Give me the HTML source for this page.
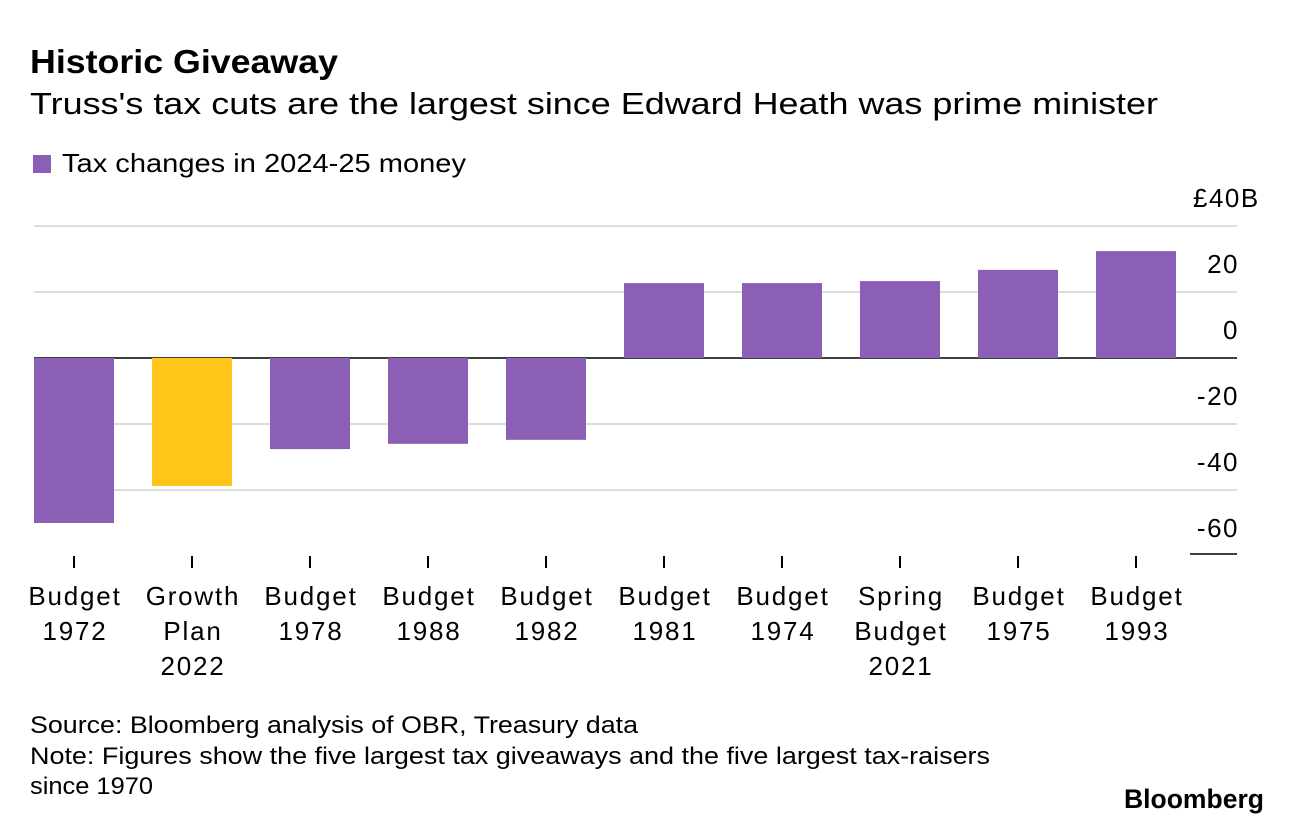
<!DOCTYPE html>
<html><head><meta charset="utf-8">
<style>
body{margin:0;background:#fff;width:1292px;height:824px;overflow:hidden;font-family:"Liberation Sans",sans-serif;color:#000}
</style></head>
<body>
<svg id="chart" width="1292" height="824" xmlns="http://www.w3.org/2000/svg" font-family="Liberation Sans, sans-serif">
<text x="30" y="73" font-size="33" font-weight="bold" textLength="308" lengthAdjust="spacingAndGlyphs">Historic Giveaway</text>
<text x="30" y="114" font-size="31" textLength="1128" lengthAdjust="spacingAndGlyphs">Truss's tax cuts are the largest since Edward Heath was prime minister</text>
<rect x="33" y="155" width="18" height="18" fill="#8a5fb5"/>
<text x="62" y="172" font-size="26" textLength="404" lengthAdjust="spacingAndGlyphs">Tax changes in 2024-25 money</text>
<g id="grid"></g>
<g id="bars"></g>
<g id="xlabels"></g>
<text x="30" y="733" font-size="24" textLength="608" lengthAdjust="spacingAndGlyphs">Source: Bloomberg analysis of OBR, Treasury data</text>
<text x="30" y="764" font-size="24" textLength="960" lengthAdjust="spacingAndGlyphs">Note: Figures show the five largest tax giveaways and the five largest tax-raisers</text>
<text x="30" y="794" font-size="24" textLength="123" lengthAdjust="spacingAndGlyphs">since 1970</text>
<text x="1124" y="808" font-size="27" font-weight="bold" textLength="140" lengthAdjust="spacingAndGlyphs">Bloomberg</text>
</svg>
<script>
const categories=[["Budget","1972"],["Growth","Plan","2022"],["Budget","1978"],["Budget","1988"],["Budget","1982"],["Budget","1981"],["Budget","1974"],["Spring","Budget","2021"],["Budget","1975"],["Budget","1993"]];
const values=[-50,-38.8,-27.6,-26,-24.8,22.7,22.7,23.3,26.7,32.4];
const highlight=[false,true,false,false,false,false,false,false,false,false];
const ticks=[40,20,0,-20,-40,-60];
const tickLabels=["£40B","20","0","-20","-40","-60"];
const NS="http://www.w3.org/2000/svg";
const y=v=>358-v*3.3;
const xc=i=>74+i*118;
function mk(tag,attrs,parent){const e=document.createElementNS(NS,tag);for(const k in attrs)e.setAttribute(k,attrs[k]);parent.appendChild(e);return e;}
const grid=document.getElementById('grid');
ticks.forEach((t,i)=>{
  const yy=y(t);
  if(t===-60){
    const l=mk('line',{x1:1190,x2:1237,y1:yy-2,y2:yy-2,stroke:'#000','stroke-width':1.5},grid);
    
    
  } else {
    const l=mk('line',{x1:34,x2:1237,y1:yy,y2:yy,stroke:t===0?'#000':'#dddddd','stroke-width':t===0?1.5:2},grid);
    
    
  }
  const first=i===0;
  const tx=mk('text',{x:first?1193:1239,y:yy-19,'font-size':26,'letter-spacing':1.5,'text-anchor':first?'start':'end'},grid);
  tx.textContent=tickLabels[i];
  
  
});
const bars=document.getElementById('bars');
const xl=document.getElementById('xlabels');
values.forEach((v,i)=>{
  const top=Math.min(y(v),y(0)),h=Math.abs(y(v)-y(0));
  const r=mk('rect',{x:xc(i)-40,y:top,width:80,height:h,fill:highlight[i]?'#ffc61a':'#8a5fb5'},bars);
  
  
  const tk=mk('line',{x1:xc(i),x2:xc(i),y1:556,y2:568,stroke:'#000','stroke-width':2},xl);
  
  
  categories[i].forEach((s,j)=>{
    const t=mk('text',{x:xc(i)+1,y:605+j*35,'font-size':26,'letter-spacing':1.8,'text-anchor':'middle'},xl);
    t.textContent=s;
    
    
  });
});
</script>
</body></html>
